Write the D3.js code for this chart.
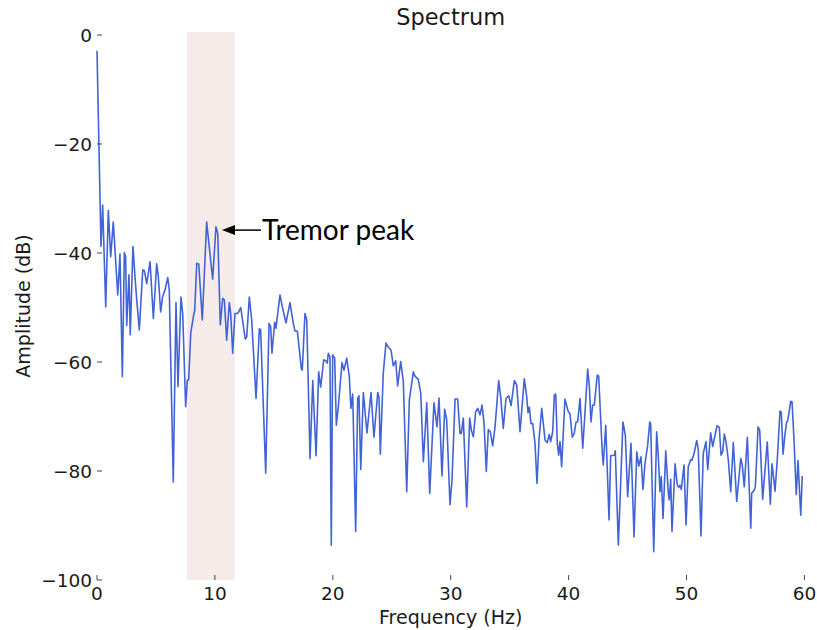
<!DOCTYPE html>
<html><head><meta charset="utf-8">
<script src="https://cdn.jsdelivr.net/npm/d3@7"></script>
<style>body{margin:0;background:#fff}</style>
</head><body>
<svg id="c" width="817" height="630"></svg>
<script>
const freq = [0,0.34,0.48,0.74,0.96,1.16,1.38,1.76,1.95,2.15,2.32,2.43,2.52,2.71,2.82,3.05,3.22,3.37,3.59,3.88,4.01,4.22,4.50,4.78,5.06,5.20,5.40,5.57,5.77,6.00,6.13,6.47,6.70,6.87,7.12,7.27,7.52,7.66,7.78,7.95,8.17,8.29,8.46,8.63,8.93,9.30,9.81,10.09,10.24,10.46,10.66,10.80,11.00,11.22,11.34,11.51,11.70,11.90,12.02,12.19,12.58,12.70,12.92,13.12,13.49,13.77,13.88,14.31,14.59,14.73,14.84,15.07,15.18,15.52,15.72,16.03,16.37,16.65,16.79,16.99,17.33,17.41,17.64,17.79,18.07,18.30,18.58,18.80,18.97,19.23,19.42,19.53,19.62,19.76,19.87,19.99,20.16,20.30,20.47,20.78,20.95,21.18,21.40,21.54,21.69,21.94,22.11,22.22,22.37,22.59,22.90,23.24,23.49,23.81,23.92,24.03,24.28,24.51,24.71,24.94,25.13,25.34,25.50,25.76,25.98,26.27,26.49,26.83,26.97,27.25,27.46,27.68,27.97,28.22,28.58,28.84,29.01,29.26,29.49,29.66,29.94,30.11,30.37,30.59,30.79,30.90,31.07,31.36,31.61,31.75,31.92,32.12,32.29,32.49,32.66,32.83,33.02,33.19,33.36,33.56,33.76,34.07,34.24,34.46,34.69,34.92,35.12,35.40,35.60,35.88,36.24,36.45,36.56,36.67,36.81,36.96,37.15,37.32,37.49,37.72,38.00,38.19,38.36,38.48,38.65,38.79,38.91,39.04,39.16,39.27,39.41,39.69,39.97,40.12,40.31,40.48,40.63,40.77,40.97,41.20,41.62,41.76,41.90,42.04,42.18,42.43,42.55,42.86,42.94,43.15,43.43,43.57,43.88,43.96,44.22,44.61,44.81,45.01,45.29,45.55,45.78,45.95,46.14,46.31,46.48,46.71,46.88,46.96,47.22,47.47,47.61,47.75,47.86,48.01,48.24,48.46,48.54,48.66,48.77,49.03,49.22,49.34,49.45,49.56,49.79,49.96,50.15,50.36,50.47,50.64,50.87,51.00,51.23,51.42,51.65,51.80,52.05,52.22,52.59,52.78,52.93,53.07,53.21,53.35,53.55,53.75,53.97,54.26,54.60,54.73,54.90,55.16,55.45,55.53,55.75,55.84,56.07,56.21,56.46,56.85,57.11,57.25,57.36,57.51,57.70,57.93,58.04,58.19,58.33,58.47,58.61,58.84,58.95,59.12,59.31,59.46,59.69,59.82];
const amplitude = [-2.9,-38.8,-31.2,-49.9,-32.2,-40.7,-34.3,-47.7,-40.2,-62.7,-39.9,-40.7,-53.3,-44.0,-55.0,-38.8,-44.3,-48.6,-54.1,-43.1,-43.2,-45.6,-41.6,-52.0,-42.0,-44.3,-50.8,-48.0,-46.8,-44.5,-46.8,-82.0,-49.1,-64.5,-48.1,-51.1,-68.2,-63.3,-63.3,-54.7,-51.7,-50.5,-41.9,-42.0,-52.3,-34.3,-44.8,-35.2,-36.4,-53.2,-48.3,-48.6,-56.0,-49.1,-51.1,-58.4,-51.1,-51.1,-50.8,-50.0,-55.8,-55.4,-48.1,-52.3,-66.7,-53.9,-54.1,-80.4,-52.9,-53.5,-58.4,-52.7,-53.8,-47.7,-49.9,-52.8,-49.1,-52.9,-54.3,-54.3,-61.2,-61.5,-51.1,-52.3,-77.7,-63.4,-77.2,-61.8,-64.6,-59.6,-59.8,-60.2,-58.4,-59.0,-93.6,-58.7,-59.3,-71.6,-68.2,-60.1,-61.5,-59.3,-62.7,-68.5,-65.9,-91.1,-66.7,-66.2,-79.7,-65.6,-73.0,-65.6,-73.8,-65.6,-66.4,-76.9,-62.1,-56.5,-57.3,-57.8,-60.7,-59.8,-64.4,-59.9,-63.6,-83.8,-67.0,-61.8,-62.6,-63.2,-65.7,-78.3,-67.5,-84.1,-67.5,-71.9,-66.6,-80.9,-68.7,-70.6,-86.2,-81.7,-66.8,-66.8,-73.1,-73.1,-70.3,-86.6,-70.3,-72.5,-73.7,-69.1,-68.5,-69.7,-67.9,-71.3,-80.1,-72.4,-72.8,-75.4,-71.9,-63.4,-66.4,-72.2,-66.7,-66.2,-68.0,-63.4,-64.2,-72.8,-63.1,-66.4,-69.3,-68.3,-71.3,-71.3,-74.9,-82.3,-74.3,-68.5,-74.3,-74.8,-73.3,-74.6,-72.8,-66.1,-65.9,-74.9,-77.1,-74.6,-79.2,-66.8,-69.1,-69.5,-73.8,-73.1,-71.0,-71.0,-66.7,-75.8,-61.3,-64.5,-71.0,-67.9,-67.9,-62.4,-62.6,-76.8,-78.9,-71.6,-89.0,-77.2,-77.1,-76.3,-93.6,-71.0,-73.4,-84.7,-74.9,-92.1,-76.5,-79.1,-77.4,-83.4,-78.6,-75.2,-71.0,-71.3,-94.8,-72.8,-77.4,-83.8,-81.0,-88.7,-76.3,-84.1,-85.3,-81.5,-91.1,-78.7,-82.6,-83.0,-82.6,-83.4,-78.9,-89.9,-79.2,-77.9,-78.0,-76.8,-74.4,-76.1,-91.9,-76.8,-74.6,-79.7,-73.0,-75.5,-71.7,-72.0,-77.1,-76.5,-73.2,-74.6,-78.0,-83.8,-74.8,-85.6,-77.7,-78.9,-82.9,-73.8,-90.5,-84.1,-83.5,-82.9,-71.9,-72.5,-85.2,-74.7,-86.1,-78.7,-80.7,-83.7,-77.9,-69.0,-69.2,-76.9,-73.7,-71.3,-70.5,-67.2,-67.3,-74.3,-84.3,-78.1,-88.1,-80.9];
const xTicks = [0,10,20,30,40,50,60];
const yTicks = [0,-20,-40,-60,-80,-100];
const band = [7.63, 11.7];
const annotation = {f: 10.6, db: -35.8, text: "Tremor peak"};
const titles = {main: "Spectrum", x: "Frequency (Hz)", y: "Amplitude (dB)"};

const svg = d3.select("#c");
const L = 97, R = 804.4, T = 32, B = 580;
const x = d3.scaleLinear().domain([0, 60]).range([L, R]);
const y = d3.scaleLinear().domain([-100, 0.55]).range([B, T]);
const font = "'DejaVu Sans', Verdana, sans-serif";

svg.append("rect").attr("x", x(band[0])).attr("y", T)
  .attr("width", x(band[1]) - x(band[0])).attr("height", B - T)
  .attr("fill", "#f6ebe8");

const data = freq.map((f, i) => [f, amplitude[i]]);
svg.append("path").datum(data)
  .attr("d", d3.line().x(d => x(d[0])).y(d => y(d[1])))
  .attr("fill", "none").attr("stroke", "#4263d6").attr("stroke-width", 1.6)
  .attr("stroke-linejoin", "round");

const fmt = v => (v < 0 ? "\u2212" + Math.abs(v) : String(v));
const g = svg.append("g").attr("font-family", font).attr("fill", "#1a1a1a");
xTicks.forEach(t => {
  svg.append("line").attr("x1", x(t)).attr("x2", x(t)).attr("y1", B).attr("y2", B - 5)
    .attr("stroke", "#444").attr("stroke-width", 1);
  g.append("text").attr("x", x(t)).attr("y", 600).attr("text-anchor", "middle")
    .attr("font-size", 18.5).text(fmt(t));
});
yTicks.forEach(t => {
  svg.append("line").attr("x1", L).attr("x2", L + 5).attr("y1", y(t)).attr("y2", y(t))
    .attr("stroke", "#444").attr("stroke-width", 1);
  g.append("text").attr("x", 92).attr("y", y(t)).attr("dy", "0.36em").attr("text-anchor", "end")
    .attr("font-size", 18.5).text(fmt(t));
});

g.append("text").attr("x", (L + R) / 2).attr("y", 25).attr("text-anchor", "middle")
  .attr("font-size", 22.5).text(titles.main);
g.append("text").attr("x", (L + R) / 2).attr("y", 624).attr("text-anchor", "middle")
  .attr("font-size", 19).text(titles.x);
g.append("text").attr("transform", `translate(30,${(T + B) / 2}) rotate(-90)`)
  .attr("text-anchor", "middle").attr("font-size", 19).text(titles.y);

// annotation arrow
const ax = x(annotation.f), ay = y(annotation.db);
svg.append("line").attr("x1", ax + 10).attr("x2", ax + 39).attr("y1", ay).attr("y2", ay)
  .attr("stroke", "#000").attr("stroke-width", 1.5);
svg.append("path").attr("d", `M${ax},${ay} L${ax + 13},${ay - 5} L${ax + 13},${ay + 5} Z`).attr("fill", "#000");
svg.append("text").attr("x", ax + 40).attr("y", ay).attr("dy", "0.35em")
  .attr("font-family", "Lato, 'Open Sans', sans-serif").attr("font-size", 28).attr("fill", "#000")
  .text(annotation.text);
</script>
</body></html>
